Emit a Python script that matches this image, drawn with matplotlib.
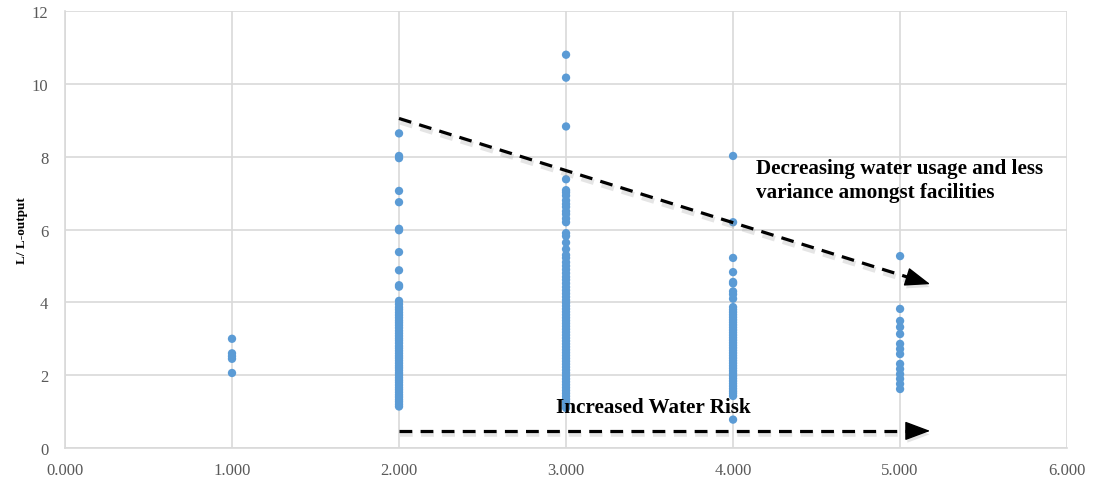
import matplotlib.pyplot as plt
import matplotlib.patheffects as pe

# facility rating vs litres per litre of output
rating_1 = [3.00, 2.60, 2.52, 2.45, 2.06]
rating_2 = [8.64, 8.02, 7.96, 7.06, 6.75, 6.02, 5.98, 5.38, 4.88, 4.47, 4.43,
            4.04, 3.95, 3.86, 3.80, 3.72, 3.65, 3.58, 3.50, 3.44, 3.37, 3.30,
            3.22, 3.15, 3.08, 3.01, 2.95, 2.88, 2.80, 2.74, 2.67, 2.60, 2.53,
            2.47, 2.40, 2.33, 2.26, 2.20, 2.13, 2.06, 2.00, 1.93, 1.86, 1.80,
            1.73, 1.66, 1.60, 1.53, 1.46, 1.40, 1.33, 1.27, 1.20, 1.14]
rating_3 = [10.80, 10.17, 8.83, 7.38, 7.08, 7.02, 6.93, 6.80, 6.70, 6.62,
            6.50, 6.42, 6.30, 6.20, 5.90, 5.82, 5.64, 5.46, 5.30, 5.22, 5.10,
            5.00, 4.90, 4.80, 4.70, 4.62, 4.52, 4.42, 4.33, 4.24, 4.15, 4.06,
            3.98, 3.90, 3.82, 3.74, 3.66, 3.58, 3.50, 3.42, 3.34, 3.26, 3.18,
            3.10, 3.02, 2.94, 2.86, 2.78, 2.70, 2.62, 2.54, 2.46, 2.38, 2.30,
            2.22, 2.14, 2.06, 1.98, 1.90, 1.82, 1.74, 1.66, 1.58, 1.50, 1.42,
            1.34, 1.26, 1.18, 1.10]
rating_4 = [8.02, 6.20, 5.22, 4.83, 4.56, 4.52, 4.30, 4.22, 4.10, 3.87, 3.80,
            3.73, 3.66, 3.59, 3.52, 3.45, 3.38, 3.31, 3.24, 3.17, 3.10, 3.03,
            2.96, 2.89, 2.82, 2.75, 2.68, 2.61, 2.54, 2.47, 2.40, 2.33, 2.26,
            2.19, 2.12, 2.05, 1.98, 1.91, 1.84, 1.77, 1.70, 1.63, 1.56, 1.50,
            1.43, 0.78]
rating_5 = [5.27, 3.82, 3.49, 3.32, 3.13, 2.86, 2.72, 2.58, 2.31, 2.17, 2.03,
            1.90, 1.76, 1.62]

groups = [(1, rating_1), (2, rating_2), (3, rating_3), (4, rating_4), (5, rating_5)]

fig = plt.figure(figsize=(10.94, 4.81), dpi=100)
ax = fig.add_axes([0.0594, 0.0665, 0.916, 0.9085])

for r, vals in groups:
    ax.scatter([r] * len(vals), vals, s=36, color='#5b9bd5', edgecolors='none', zorder=3)

ax.set_xlim(0, 6)
ax.set_ylim(0, 12)
ax.set_xticks(range(0, 7))
ax.set_xticklabels(['%.3f' % v for v in range(0, 7)])
ax.set_yticks(range(0, 13, 2))
ax.grid(True, color='#d9d9d9', linewidth=1.2)
ax.set_axisbelow(True)
for s in ['top', 'right']:
    ax.spines[s].set_visible(False)
for s in ['left', 'bottom']:
    ax.spines[s].set_color('#d9d9d9')
    ax.spines[s].set_linewidth(1.2)
ax.tick_params(length=0, labelsize=12, labelcolor='#595959')
ax.tick_params(axis='x', pad=10)
ax.tick_params(axis='y', pad=12)
for lab in ax.get_xticklabels() + ax.get_yticklabels():
    lab.set_family('Liberation Serif')

ax.set_ylabel('L/ L-output', family='Liberation Serif', fontweight='bold', fontsize=9.5)
ax.yaxis.set_label_coords(-0.037, 0.5)

# dashed trend arrows with a soft drop shadow
shadow = [pe.SimpleLineShadow(offset=(1, -2.5), shadow_color='#999999', alpha=0.25,
                              linewidth=4),
          pe.Normal()]
head_shadow = [pe.withSimplePatchShadow(offset=(1, -2.5), shadow_rgbFace='#999999', alpha=0.25)]
head = dict(arrowstyle='-|>,head_length=1.6,head_width=0.6', color='black',
            linewidth=1, shrinkA=0, shrinkB=0, path_effects=head_shadow)

arrows = [((2.0, 9.05), (5.18, 4.5)), ((2.0, 0.47), (5.18, 0.47))]
for (x0, y0), (x1, y1) in arrows:
    # line stops a little short of the tip, head is drawn solid
    fx = x0 + (x1 - x0) * 0.96
    fy = y0 + (y1 - y0) * 0.96
    ax.plot([x0, fx], [y0, fy], color='black', linewidth=2.3,
            linestyle=(0, (4, 2.6)), path_effects=shadow, zorder=4)
    ax.annotate('', xy=(x1, y1), xytext=(fx, fy), arrowprops=head, zorder=4)

ax.text(4.14, 7.36, 'Decreasing water usage and less\nvariance amongst facilities',
        family='Liberation Serif', fontweight='bold', fontsize=15.2,
        va='center', ha='left', linespacing=1.25)
ax.text(3.52, 1.13, 'Increased Water Risk', family='Liberation Serif',
        fontweight='bold', fontsize=15.2, va='center', ha='center', zorder=5)

fig.savefig('out.png', dpi=100)
